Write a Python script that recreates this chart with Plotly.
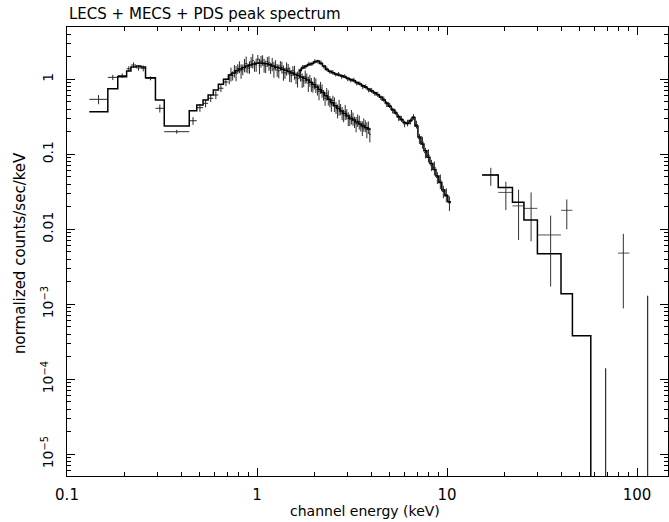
import plotly.graph_objects as go

# ---------------- data ----------------
# LECS: bin edges (keV) and folded model
LECS_EDGES = [0.131, 0.164, 0.185, 0.206, 0.217, 0.231, 0.245, 0.259, 0.292, 0.325, 0.440, 0.482,
              0.520, 0.553, 0.589, 0.626, 0.666, 0.707,
              0.737, 0.768, 0.800, 0.833, 0.868, 0.904, 0.940, 0.980, 1.02, 1.06,
              1.10, 1.145, 1.19, 1.24, 1.29, 1.34, 1.39, 1.445, 1.50, 1.56,
              1.62, 1.68, 1.745, 1.81, 1.88, 1.95, 2.02, 2.10, 2.18, 2.26,
              2.35, 2.44, 2.53, 2.63, 2.73, 2.83, 2.94, 3.05, 3.17, 3.29,
              3.42, 3.55, 3.68, 3.82, 3.96]
LECS_MODEL = [0.370, 0.749, 1.083, 1.29, 1.46, 1.50, 1.46, 1.05, 0.530, 0.238, 0.381,
              0.454, 0.530, 0.617, 0.720, 0.858, 1.00,
              1.14, 1.21, 1.30, 1.37, 1.43, 1.50, 1.55, 1.60, 1.63, 1.65,
              1.64, 1.61, 1.56, 1.50, 1.45, 1.41, 1.36, 1.32, 1.27, 1.21,
              1.16, 1.12, 1.07, 1.03, 0.98, 0.91, 0.85, 0.79, 0.73, 0.667,
              0.604, 0.543, 0.486, 0.443, 0.408, 0.378, 0.350, 0.324, 0.303, 0.287,
              0.269, 0.254, 0.239, 0.226, 0.218]
N_LECS_COARSE = 17  # first 17 LECS bins carry their own data point
LECS_DATA_COARSE = [0.54, 1.06, 1.12, 1.38, 1.55, 1.42, 1.40, 1.03, 0.41, 0.200, 0.28,
                    0.418, 0.478, 0.558, 0.617, 0.759, 0.92]
LECS_RELERR_COARSE = [0.14, 0.08, 0.07, 0.08, 0.08, 0.08, 0.09, 0.06, 0.12, 0.06, 0.12,
                      0.12, 0.12, 0.11, 0.12, 0.11, 0.12]
# above 0.707 keV every model bin holds two data channels
LECS_DATA_FINE = [1.02, 1.18, 1.12, 1.30, 1.22, 1.38, 1.47, 1.30, 1.35, 1.55,
                  1.62, 1.41, 1.46, 1.70, 1.78, 1.50, 1.57, 1.85, 1.52, 1.74,
                  1.80, 1.55, 1.49, 1.72, 1.66, 1.42, 1.60, 1.38, 1.55, 1.33,
                  1.30, 1.52, 1.45, 1.24, 1.22, 1.40, 1.38, 1.18, 1.12, 1.30,
                  1.25, 1.05, 1.02, 1.19, 1.15, 0.98, 0.95, 1.09, 1.04, 0.88,
                  0.97, 0.86, 0.79, 0.90, 0.84, 0.73, 0.69, 0.78, 0.71, 0.62,
                  0.56, 0.64, 0.58, 0.51, 0.46, 0.52, 0.47, 0.42, 0.38, 0.43,
                  0.40, 0.355, 0.33, 0.37, 0.345, 0.30, 0.29, 0.32, 0.30, 0.27,
                  0.255, 0.285, 0.27, 0.24, 0.225, 0.25, 0.24, 0.215, 0.23, 0.185]
LECS_RELERR_FINE = [0.16, 0.21, 0.14, 0.19, 0.23, 0.15, 0.18, 0.22, 0.16, 0.20,
                    0.24, 0.15, 0.19, 0.17, 0.22, 0.16, 0.20, 0.14, 0.23, 0.18,
                    0.16, 0.21, 0.19, 0.15, 0.22, 0.17, 0.20, 0.24, 0.16, 0.19,
                    0.21, 0.15, 0.18, 0.23, 0.17, 0.20, 0.16, 0.22, 0.19, 0.15,
                    0.21, 0.18, 0.24, 0.16, 0.19, 0.22, 0.17, 0.20, 0.15, 0.23,
                    0.18, 0.21, 0.16, 0.19, 0.22, 0.17, 0.24, 0.18, 0.20, 0.16,
                    0.21, 0.19, 0.23, 0.17, 0.20, 0.16, 0.22, 0.18, 0.21, 0.24,
                    0.17, 0.20, 0.19, 0.23, 0.16, 0.21, 0.18, 0.22, 0.20, 0.17,
                    0.23, 0.19, 0.21, 0.16, 0.22, 0.20, 0.18, 0.24, 0.19, 0.22]

# MECS
MECS_EDGES = [1.66, 1.71, 1.77, 1.84, 1.91, 1.98, 2.05, 2.13, 2.21, 2.29, 2.37, 2.46, 2.55,
              2.64, 2.74, 2.84, 2.95, 3.06, 3.17, 3.29, 3.41, 3.54, 3.67, 3.80, 3.94,
              4.09, 4.24, 4.40, 4.56, 4.73, 4.90, 5.08, 5.27, 5.46, 5.66, 5.87, 6.09,
              6.31, 6.54, 6.78, 7.03, 7.29, 7.56, 7.84, 8.13, 8.43, 8.74, 9.06, 9.39,
              9.74, 10.1, 10.5]
MECS_MODEL = [1.31, 1.41, 1.50, 1.56, 1.62, 1.70, 1.75, 1.62, 1.50, 1.35,
              1.28, 1.22, 1.18, 1.14, 1.11, 1.07, 1.03, 0.994, 0.955, 0.906,
              0.866, 0.822, 0.780, 0.740, 0.698, 0.663, 0.621, 0.58, 0.53, 0.483,
              0.437, 0.395, 0.355, 0.319, 0.288, 0.265, 0.257, 0.282, 0.309, 0.239,
              0.170, 0.137, 0.111, 0.091, 0.0755, 0.0626, 0.0515, 0.0420, 0.0335, 0.0279,
              0.0232]
MECS_DATA = [1.25, 1.45, 1.47, 1.60, 1.60, 1.73, 1.72, 1.66, 1.47, 1.38,
             1.26, 1.24, 1.16, 1.17, 1.09, 1.10, 1.01, 0.97, 0.98, 0.89,
             0.88, 0.80, 0.80, 0.72, 0.71, 0.65, 0.63, 0.57, 0.545, 0.47,
             0.45, 0.385, 0.365, 0.31, 0.296, 0.255, 0.262, 0.275, 0.315, 0.25,
             0.162, 0.145, 0.105, 0.097, 0.072, 0.066, 0.049, 0.044, 0.032, 0.029,
             0.0225]
MECS_RELERR = [0.08, 0.07, 0.06, 0.07, 0.06, 0.07, 0.06, 0.07, 0.06, 0.07,
               0.06, 0.07, 0.06, 0.07, 0.07, 0.06, 0.07, 0.06, 0.07, 0.07,
               0.06, 0.08, 0.07, 0.07, 0.08, 0.07, 0.08, 0.07, 0.08, 0.09,
               0.08, 0.09, 0.08, 0.10, 0.09, 0.10, 0.10, 0.09, 0.09, 0.12,
               0.15, 0.18, 0.16, 0.20, 0.17, 0.21, 0.18, 0.22, 0.19, 0.21,
               0.22]

# PDS
PDS_MODEL_EDGES = [15.3, 18.6, 22.1, 25.4, 29.9, 39.8, 45.7, 57.1, 146.0]
PDS_MODEL = [0.053, 0.036, 0.023, 0.0133, 0.0047, 0.00138, 3.8e-4, 1e-9]
PDS_E = [17.0, 20.4, 23.8, 27.7, 35.1, 42.7, 84.7]
PDS_ELO = [15.3, 18.6, 22.1, 25.4, 29.9, 39.8, 79.4]
PDS_EHI = [18.6, 22.1, 25.4, 29.9, 39.8, 45.7, 91.2]
PDS_VAL = [0.053, 0.031, 0.0205, 0.019, 0.0084, 0.0179, 0.00481]
PDS_YLO = [0.038, 0.018, 0.0072, 0.0069, 0.00172, 0.010, 8.8e-4]
PDS_YHI = [0.066, 0.043, 0.0336, 0.031, 0.0152, 0.025, 0.0087]
# PDS bins with non-positive rate: only the upper end of the error bar is visible
PDS_UL_E = [68.4, 113.8]
PDS_UL_UP = [1.4e-4, 1.3e-3]
FLOOR = 1e-9

DATA_COLOR = "#2a2a2a"
MODEL_COLOR = "black"
FONT = "DejaVu Sans"


def centers(edges):
    return [(edges[i] * edges[i + 1]) ** 0.5 for i in range(len(edges) - 1)]


def data_trace(edges, vals, relerr):
    c = centers(edges)
    return go.Scatter(
        x=c, y=vals, mode="markers",
        marker=dict(size=1, color=DATA_COLOR),
        error_x=dict(type="data", symmetric=False,
                     array=[edges[i + 1] - c[i] for i in range(len(c))],
                     arrayminus=[c[i] - edges[i] for i in range(len(c))],
                     color=DATA_COLOR, thickness=1, width=0),
        error_y=dict(type="data", symmetric=False,
                     array=[v * r for v, r in zip(vals, relerr)],
                     arrayminus=[v * r for v, r in zip(vals, relerr)],
                     color=DATA_COLOR, thickness=1, width=0),
        showlegend=False, hoverinfo="skip")


def model_trace(edges, model):
    return go.Scatter(x=edges, y=list(model) + [model[-1]], mode="lines",
                      line=dict(color=MODEL_COLOR, width=1.5, shape="hv"),
                      showlegend=False, hoverinfo="skip")


# fine LECS channel edges: each model bin above 0.707 keV split in two
fine_src = LECS_EDGES[N_LECS_COARSE:]
LECS_FINE_EDGES = []
for i in range(len(fine_src) - 1):
    LECS_FINE_EDGES += [fine_src[i], (fine_src[i] * fine_src[i + 1]) ** 0.5]
LECS_FINE_EDGES.append(fine_src[-1])

fig = go.Figure()
fig.add_trace(data_trace(LECS_EDGES[:N_LECS_COARSE + 1], LECS_DATA_COARSE, LECS_RELERR_COARSE))
fig.add_trace(data_trace(LECS_FINE_EDGES, LECS_DATA_FINE, LECS_RELERR_FINE))
fig.add_trace(data_trace(MECS_EDGES, MECS_DATA, MECS_RELERR))
fig.add_trace(go.Scatter(
    x=PDS_E, y=PDS_VAL, mode="markers", marker=dict(size=1, color=DATA_COLOR),
    error_x=dict(type="data", symmetric=False,
                 array=[h - e for h, e in zip(PDS_EHI, PDS_E)],
                 arrayminus=[e - l for e, l in zip(PDS_E, PDS_ELO)],
                 color="#555555", thickness=1, width=0),
    error_y=dict(type="data", symmetric=False,
                 array=[h - v for h, v in zip(PDS_YHI, PDS_VAL)],
                 arrayminus=[v - l for v, l in zip(PDS_VAL, PDS_YLO)],
                 color="#333333", thickness=1, width=0),
    showlegend=False, hoverinfo="skip"))
fig.add_trace(go.Scatter(
    x=PDS_UL_E, y=[FLOOR] * len(PDS_UL_E), mode="markers",
    marker=dict(size=1, color=DATA_COLOR),
    error_y=dict(type="data", symmetric=False,
                 array=[u - FLOOR for u in PDS_UL_UP], arrayminus=[0] * len(PDS_UL_E),
                 color="black", thickness=1, width=0),
    showlegend=False, hoverinfo="skip"))
fig.add_trace(model_trace(LECS_EDGES, LECS_MODEL))
fig.add_trace(model_trace(MECS_EDGES, MECS_MODEL))
fig.add_trace(model_trace(PDS_MODEL_EDGES, PDS_MODEL))

X_TICKS = [0.1, 1, 10, 100]
X_TICKTEXT = ["0.1", "1", "10", "100"]
Y_TICKS = [1e-5, 1e-4, 1e-3, 0.01, 0.1, 1]
Y_TICKTEXT = ["10<sup>\u22125</sup>", "10<sup>\u22124</sup>", "10<sup>\u22123</sup>", "0.01", "0.1", "1"]
X_MINOR = [k * 10 ** d for d in (-1, 0, 1, 2) for k in range(2, 10)]
Y_MINOR = [k * 10.0 ** d for d in range(-6, 1) for k in range(2, 10)]

axis_common = dict(showline=True, linecolor="black", linewidth=1, mirror="allticks",
                   ticks="inside", ticklen=8, tickcolor="black", tickwidth=1,
                   showgrid=False, zeroline=False)

fig.update_xaxes(type="log", range=[-1, 2.163], tickmode="array",
                 tickvals=X_TICKS, ticktext=X_TICKTEXT, ticklabelstandoff=5,
                 tickfont=dict(family=FONT, size=15, color="black"),
                 minor=dict(tickmode="array", tickvals=X_MINOR, ticks="inside",
                            ticklen=4, tickcolor="black", showgrid=False),
                 **axis_common)
fig.update_yaxes(type="log", range=[-5.29, 0.697], tickmode="array",
                 tickvals=Y_TICKS, ticktext=Y_TICKTEXT, tickangle=-90,
                 ticklabelstandoff=7,
                 tickfont=dict(family=FONT, size=14, color="black"),
                 minor=dict(tickmode="array", tickvals=Y_MINOR, ticks="inside",
                            ticklen=4, tickcolor="black", showgrid=False),
                 **axis_common)

fig.add_annotation(text="LECS + MECS + PDS peak spectrum", xref="paper", yref="paper",
                   x=0, y=1.029, xanchor="left", yanchor="middle", showarrow=False,
                   font=dict(family=FONT, size=15, color="black"))
fig.add_annotation(text="channel energy (keV)", xref="paper", yref="paper",
                   x=0.496, y=-0.078, xanchor="center", yanchor="middle", showarrow=False,
                   font=dict(family=FONT, size=14, color="black"))
fig.add_annotation(text="normalized counts/sec/keV", xref="paper", yref="paper",
                   x=-0.078, y=0.497, xanchor="center", yanchor="middle", showarrow=False,
                   textangle=-90, font=dict(family=FONT, size=15, color="black"))

fig.update_layout(width=669, height=522, margin=dict(l=67, r=1, t=27, b=46),
                  paper_bgcolor="white", plot_bgcolor="white",
                  font=dict(family=FONT, color="black"))

fig.write_html("out.html")
